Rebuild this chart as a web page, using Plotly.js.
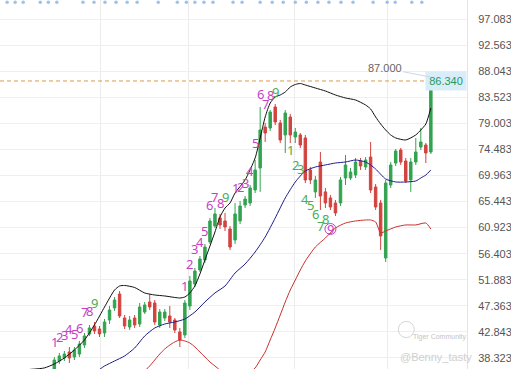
<!DOCTYPE html>
<html><head><meta charset="utf-8">
<script src="https://cdn.plot.ly/plotly-3.0.1.min.js"></script>
<style>html,body{margin:0;padding:0;background:#fff}#chart{width:511px;height:369px}</style>
</head><body><div id="chart"></div>
<script>
// candle index (trading days)
const candleIdx = [0,1,2,3,4,5,6,7,8,9,10,11,12,13,14,15,16,17,18,19,20,21,22,23,24,25,26,27,28,29,30,31,32,33,34,35,36,37,38,39,40,41,42,43,44,45,46,47,48,49,50,51,52,53,54,55,56,57,58,59,60,61,62,63,64,65,66,67,68,69,70,71,72,73,74,75];
const openP = [36.41,37.80,38.32,39.36,38.49,39.01,40.57,42.48,43.87,43.35,
  42.65,44.91,46.99,49.41,45.25,43.69,45.25,44.21,46.29,48.03,
  47.85,44.04,45.25,45.60,44.91,42.83,42.31,47.33,51.15,53.57,
  55.31,58.43,61.20,62.59,62.07,60.68,58.77,62.07,64.84,65.19,
  67.44,71.26,78.36,78.19,81.83,79.06,76.98,80.10,76.63,76.98,
  76.46,70.91,67.11,72.29,67.11,66.06,65.19,65.19,69.52,69.52,
  70.04,72.47,71.43,73.16,67.96,65.19,55.65,68.31,72.12,74.38,
  72.47,69.18,72.29,74.89,75.24,74.03];
const highP = [38.49,39.19,39.53,40.22,40.22,41.27,42.65,44.04,44.56,43.87,
  45.08,47.33,48.89,49.93,45.77,45.60,45.77,47.85,48.03,49.41,
  48.37,46.81,46.81,47.33,45.25,43.52,48.37,52.53,53.92,56.00,
  58.08,62.59,64.33,63.29,63.46,61.20,65.19,65.54,66.40,68.31,
  72.64,81.83,79.06,81.31,82.35,79.58,81.31,80.62,78.19,77.32,
  76.98,71.43,69.87,74.03,67.79,66.58,65.71,69.70,73.51,71.26,
  72.99,72.99,73.16,75.76,68.48,65.71,69.18,72.29,74.55,74.72,
  72.99,72.99,76.46,78.19,75.59,87.00];
const lowP = [35.89,37.28,37.80,37.45,37.97,38.49,40.05,42.13,42.48,41.96,
  41.96,44.21,46.47,45.25,43.35,43.17,43.52,43.69,45.95,46.64,
  44.04,43.52,44.73,43.52,42.65,40.22,41.79,46.64,50.63,53.23,
  54.79,58.08,60.86,60.68,60.33,57.04,58.08,61.55,64.32,64.67,
  66.92,67.11,75.76,77.67,78.71,75.59,73.86,75.59,75.59,74.72,
  68.65,68.48,66.06,63.97,64.32,63.97,62.93,64.67,68.31,69.18,
  69.52,70.91,70.91,66.92,63.97,57.04,54.96,67.79,71.60,71.78,
  68.65,67.11,71.78,74.38,72.12,73.68];
const closeP = [37.97,38.67,39.01,38.32,39.71,40.75,42.13,43.52,43.00,42.48,
  44.56,46.64,48.37,45.60,43.87,44.91,44.04,47.16,47.51,47.16,
  44.56,46.29,46.29,44.56,43.17,41.44,47.85,51.67,53.40,55.48,
  57.56,62.07,63.29,61.38,61.03,57.56,63.29,64.67,65.88,67.79,
  70.91,77.84,77.32,80.96,79.23,76.11,80.79,76.98,77.50,75.24,
  69.18,69.18,69.18,66.40,65.19,64.49,63.46,69.18,71.78,70.56,
  72.29,71.60,72.64,67.44,64.49,59.47,68.65,71.78,74.20,72.29,
  69.00,72.29,74.03,75.76,73.86,86.34];

// Bollinger bands
const upperIdx = [-5,-2,0,2,4,6,8,10,12,13,14,16,18,20,22,24,25,26,27,28,29,30,31,32,33,34,35,36,38,40,41,42,43,44,45,46,47,48,49,50,52,54,56,58,60,62,63,64,65,66,67,68,70,72,73,74,75];
const upperVal = [36.33,36.59,37.28,38.32,39.71,41.44,44.04,47.16,50.11,50.80,50.89,50.54,49.59,49.24,49.07,48.81,48.72,48.89,49.59,50.80,52.88,55.31,57.73,60.16,62.76,64.32,65.19,66.92,69.18,72.99,76.45,80.10,82.52,83.56,83.91,84.43,85.30,85.73,85.90,85.64,85.12,84.60,83.91,83.39,83.04,82.18,81.48,80.10,78.88,77.84,76.98,76.46,76.11,76.98,77.84,78.88,81.65];
const midIdx = [9,10,12,14,16,18,20,22,24,26,28,30,32,34,36,38,40,42,44,46,48,50,52,54,56,58,60,62,63,64,66,68,70,72,73,74,75];
const midVal = [36.33,36.93,37.80,38.67,40.05,42.13,43.52,44.21,44.56,45.08,46.29,48.03,49.59,50.80,53.05,54.61,56.69,59.29,62.59,66.06,68.83,70.73,71.43,71.78,72.12,72.29,72.64,72.29,71.78,71.08,69.35,68.83,68.83,69.00,69.52,70.04,70.91];
const lowIdx = [18,19,20,21,22,23,24,25,26,27,28,29,30,31,32,33,35,38,40,41,42,43,44,45,46,47,48,49,50,52,54,56,58,60,62,63,64,65,66,68,70,72,74,75];
const lowVal = [36.07,36.93,37.97,39.01,39.88,40.57,41.10,41.44,41.27,40.92,40.23,39.36,38.49,37.63,36.93,36.24,35.37,35.20,36.59,37.97,39.36,41.44,43.52,45.77,48.03,50.11,51.84,53.57,55.13,57.56,59.12,60.86,61.72,62.07,62.24,62.24,61.89,59.99,60.33,61.03,61.38,61.38,61.72,60.68];

// TD sequential counts (label price level)
const upIdx = [0,1,2,3,4,5,6,7,8, 26,27,28,29,30,31,32,33,34, 36,37,38,39,40,41,42,43,44];
const upNum = [1,2,3,4,5,6,7,8,9, 1,2,3,4,5,6,7,8,9, 1,2,3,4,5,6,7,8,9];
const upLabelY = [41.09,41.96,42.31,43.35,42.48,43.52,46.30,46.47,47.85,
  50.80,54.61,57.22,58.43,60.33,64.84,66.23,65.19,66.23,
  67.79,67.96,68.66,70.73,75.59,84.08,82.35,83.91,84.43];
const downIdx = [47,48,49,50,51,52,53,54,55];
const downNum = [1,2,3,4,5,6,7,8,9];
const downLabelY = [74.38,71.78,71.08,65.88,64.84,63.28,61.20,62.42,60.68];

// y axis tick labels
const yTicks = [97.083,92.563,88.043,83.523,79.003,74.483,69.963,65.443,60.923,56.403,51.883,47.363,42.843,38.323];
const yTickText = ["97.083","92.563","88.043","83.523","79.003","74.483","69.963","65.443","60.923","56.403","51.883","47.363","42.843","38.323"];
// date separators (vertical grid)
const dateGridIdx = [9.1, 26.8, 47.9, 66.3];
// dots along the top edge
const topDotIdx = [-9.4,-7.8,-6.2,-2.8,-1.2,0.5,5.7,7.9,10.1,12.3,14.5,16.5,20.7,24.5,26.3,28.0,29.8,31.6,35.6,37.4,41.0,43.4,45.6,48.0,50.2,52.5,54.7,57.1,59.5,63.5,66.3,67.9,71.2,73.2];

const lastPrice = 86.34;
const highMark = 87.0;

const GREEN = '#33a350', RED = '#d2433f', MAG = '#c63fc6', TDGREEN = '#4aad52';
const FONT = 'Liberation Sans, Arial, sans-serif';

const traces = [
  {type:'scatter', mode:'lines', x:upperIdx, y:upperVal, line:{color:'#111111', width:1, shape:'spline', smoothing:0.6}, hoverinfo:'skip'},
  {type:'scatter', mode:'lines', x:midIdx, y:midVal, line:{color:'#1c1c8c', width:1, shape:'spline', smoothing:0.6}, hoverinfo:'skip'},
  {type:'scatter', mode:'lines', x:lowIdx, y:lowVal, line:{color:'#c8302c', width:1, shape:'spline', smoothing:0.6}, hoverinfo:'skip'},
  {type:'candlestick', x:candleIdx, open:openP, high:highP, low:lowP, close:closeP,
    increasing:{line:{color:GREEN, width:1}, fillcolor:GREEN},
    decreasing:{line:{color:RED, width:1}, fillcolor:RED},
    whiskerwidth:0, hoverinfo:'skip'},
  {type:'scatter', mode:'markers', x:topDotIdx, y:topDotIdx.map(()=>100.0),
    marker:{color:'#9fc2ea', size:3.5}, cliponaxis:false, hoverinfo:'skip'}
];

const annotations = [];
upIdx.forEach((k, j) => {
  annotations.push({x:k, y:upLabelY[j], xref:'x', yref:'y', text:String(upNum[j]), showarrow:false,
    xanchor:'center', yanchor:'middle', font:{family:'Noto Sans, sans-serif', size:13, color: upNum[j]===9 ? TDGREEN : MAG}});
});
downIdx.forEach((k, j) => {
  annotations.push({x:k, y:downLabelY[j], xref:'x', yref:'y', text:String(downNum[j]), showarrow:false,
    xanchor:'center', yanchor:'middle', font:{family:'Noto Sans, sans-serif', size:13, color: downNum[j]===9 ? MAG : TDGREEN}});
});
annotations.push({x:1, xref:'paper', xanchor:'right', y:lastPrice, yref:'y', yanchor:'middle', text:'86.340',
  showarrow:false, bgcolor:'#d8ecfa', width:40, height:18, borderpad:0, font:{family:FONT, size:11, color:'#27995a'}});
annotations.push({x:candleIdx[candleIdx.length-1], y:highMark, xref:'x', yref:'y', text:highMark.toFixed(3),
  showarrow:true, arrowhead:0, arrowwidth:1, arrowcolor:'#ccd6e4', ax:-46, ay:-9,
  font:{family:FONT, size:11, color:'#666'}});
annotations.push({x:0.942, xref:'paper', xanchor:'center', y:0.087, yref:'paper', yanchor:'middle', text:'Tiger Community', showarrow:false,
  font:{family:FONT, size:7, color:'#c4c4c4'}});
annotations.push({x:0.933, xref:'paper', xanchor:'center', y:0.032, yref:'paper', yanchor:'middle', text:'@Benny_tasty', showarrow:false,
  font:{family:FONT, size:11, color:'#cfcfcf'}});

const shapes = [
  {type:'line', xref:'paper', x0:0, x1:1, yref:'y', y0:lastPrice, y1:lastPrice, line:{color:'#dd9a48', width:1, dash:'4px,3px'}},
  {type:'circle', xref:'x', yref:'y', xsizemode:'pixel', ysizemode:'pixel', xanchor:downIdx[8], yanchor:downLabelY[8],
    x0:-5.5, x1:5.5, y0:-5.5, y1:5.5, line:{color:MAG, width:1}},
  {type:'circle', xref:'paper', yref:'paper', x0:0.853, x1:0.887, y0:0.085, y1:0.129, line:{color:'#d4d4d4', width:1}}
];

const layout = {
  width:511, height:369, margin:{l:0, r:44, t:0, b:0},
  paper_bgcolor:'#ffffff', plot_bgcolor:'#ffffff', showlegend:false,
  xaxis:{range:[-10.82, 82.2], rangeslider:{visible:false}, tickvals:dateGridIdx, showticklabels:false,
    showgrid:true, gridcolor:'#ececec', zeroline:false, ticks:'', fixedrange:true},
  yaxis:{side:'right', range:[36.41, 100.376], tickvals:yTicks, ticktext:yTickText, showgrid:true, gridcolor:'#efefef',
    zeroline:false, ticks:'', ticklabelstandoff:8, showline:true, linecolor:'#e4e4e4', linewidth:1,
    tickfont:{family:FONT, size:11, color:'#555'}},
  annotations, shapes
};
Plotly.newPlot('chart', traces, layout, {displayModeBar:false, staticPlot:true});
</script></body></html>
